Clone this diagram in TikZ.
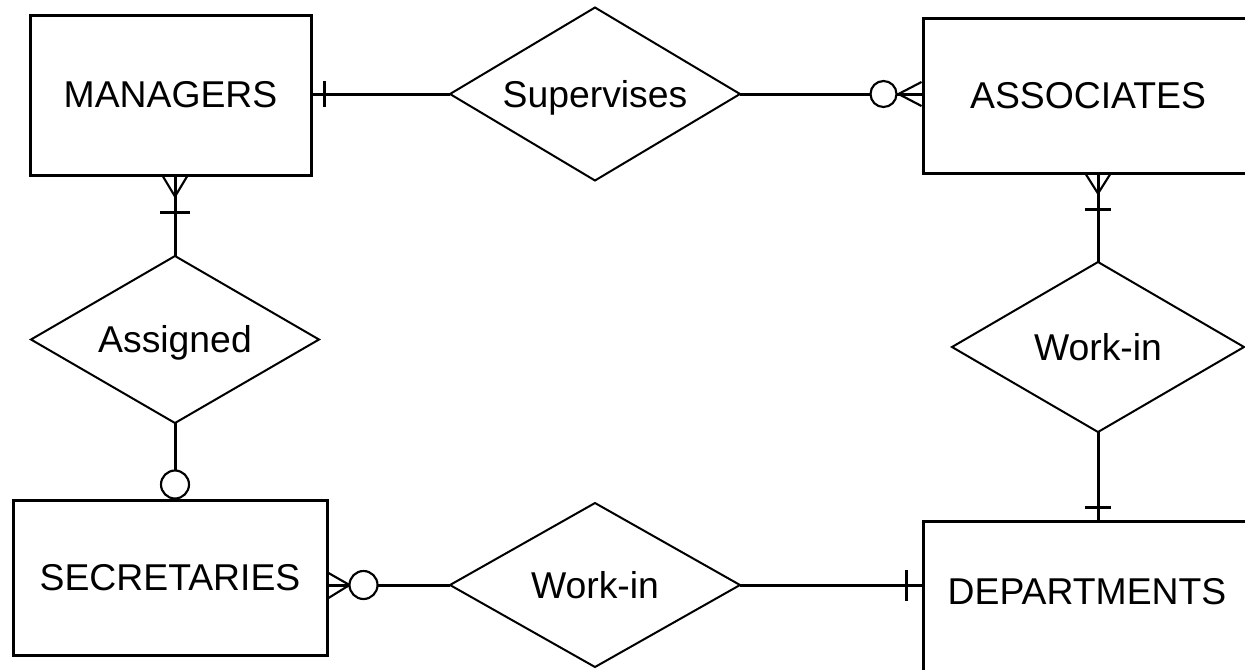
\documentclass[tikz,border=0pt]{standalone}
\usepackage{fontspec}
\setmainfont{Liberation Sans}
\usetikzlibrary{shapes.geometric,calc}
% zero-size text box, so a diamond keeps exactly its minimum size
\newcommand{\flatlabel}[1]{\smash{\makebox[0pt]{\raisebox{-0.36em}{#1}}}}
\begin{document}
\begin{tikzpicture}[x=0.75pt,y=-0.75pt,
  label font/.style={font=\fontsize{28}{32}\selectfont},
  entity/.style={draw,line width=2.25pt,rectangle,inner sep=0pt,label font},
  relation/.style={draw,line width=1.5pt,diamond,inner sep=0pt,outer sep=0pt,label font},
  conn/.style={line width=2.25pt},
  bar/.style={line width=2.25pt},
  foot/.style={line width=1.6pt},
  ring/.style={draw,line width=1.6pt,fill=white}
]
\useasboundingbox (0,0) rectangle (1245,669);
\clip (0,0) rectangle (1245,669);

% entities
\node[entity,minimum width=210.75pt,minimum height=120pt] (man) at (170.5,95) {MANAGERS};
\node[entity,minimum width=247.5pt,minimum height=116.25pt] (assoc) at (1088,95.5) {ASSOCIATES};
\node[entity,minimum width=235.5pt,minimum height=116.25pt] (sec) at (170,577.5) {SECRETARIES};
\node[entity,minimum width=247.5pt,minimum height=149.25pt] (dept) at (1088,620.5) {};
\node[label font,inner sep=0pt] (deptname) at (1087,592) {DEPARTMENTS};

% relationships
\node[relation,minimum width=217.5pt,minimum height=129.75pt] (sup) at (595,94) {\flatlabel{Supervises}};
\node[relation,minimum width=216pt,minimum height=125.25pt] (asg) at (175,339.5) {\flatlabel{Assigned}};
\node[relation,minimum width=219pt,minimum height=127.5pt] (wka) at (1098,347) {\flatlabel{Work-in}};
\node[relation,minimum width=217.5pt,minimum height=123pt] (wks) at (595,585) {\flatlabel{Work-in}};

% MANAGERS -- Supervises
\coordinate (m0) at (sup.west -| man.east);
\draw[conn] (m0) -- (sup.west);
\draw[bar] ($(m0)+(12,-13)$) -- ++(0,26);

% Supervises -- ASSOCIATES
\coordinate (a1) at (sup.east -| assoc.west);
\draw[conn] (sup.east) -- (a1);
\draw[foot] ($(a1)+(0,-12)$) -- ($(a1)+(-23,0)$) -- ($(a1)+(0,12)$);
\draw[ring] ($(a1)+(-38,0)$) circle[radius=13];

% MANAGERS -- Assigned
\coordinate (m1) at (asg.north |- man.south);
\draw[conn] (m1) -- (asg.north);
\draw[foot] ($(m1)+(-12,0)$) -- ($(m1)+(0,20)$) -- ($(m1)+(12,0)$);
\draw[bar] ($(m1)+(-15,36)$) -- ++(30,0);

% Assigned -- SECRETARIES
\coordinate (s1) at (asg.south |- sec.north);
\draw[conn] (asg.south) -- (s1);
\draw[ring] ($(s1)+(0,-14)$) circle[radius=14];

% SECRETARIES -- Work-in
\coordinate (s2) at (wks.west -| sec.east);
\draw[conn] (s2) -- (wks.west);
\draw[foot] ($(s2)+(0,-12)$) -- ($(s2)+(21,0)$) -- ($(s2)+(0,13)$);
\draw[ring] ($(s2)+(35,0)$) circle[radius=14];

% Work-in -- DEPARTMENTS
\coordinate (d1) at (wks.east -| dept.west);
\draw[conn] (wks.east) -- (d1);
\draw[bar] ($(d1)+(-15,-15)$) -- ++(0,31);

% ASSOCIATES -- Work-in
\coordinate (a2) at (wka.north |- assoc.south);
\draw[conn] (a2) -- (wka.north);
\draw[foot] ($(a2)+(-12,0)$) -- ($(a2)+(0,19)$) -- ($(a2)+(12,0)$);
\draw[bar] ($(a2)+(-13,35)$) -- ++(26,0);

% Work-in -- DEPARTMENTS
\coordinate (d2) at (wka.south |- dept.north);
\draw[conn] (wka.south) -- (d2);
\draw[bar] ($(d2)+(-13,-12)$) -- ++(26,0);
\end{tikzpicture}
\end{document}
